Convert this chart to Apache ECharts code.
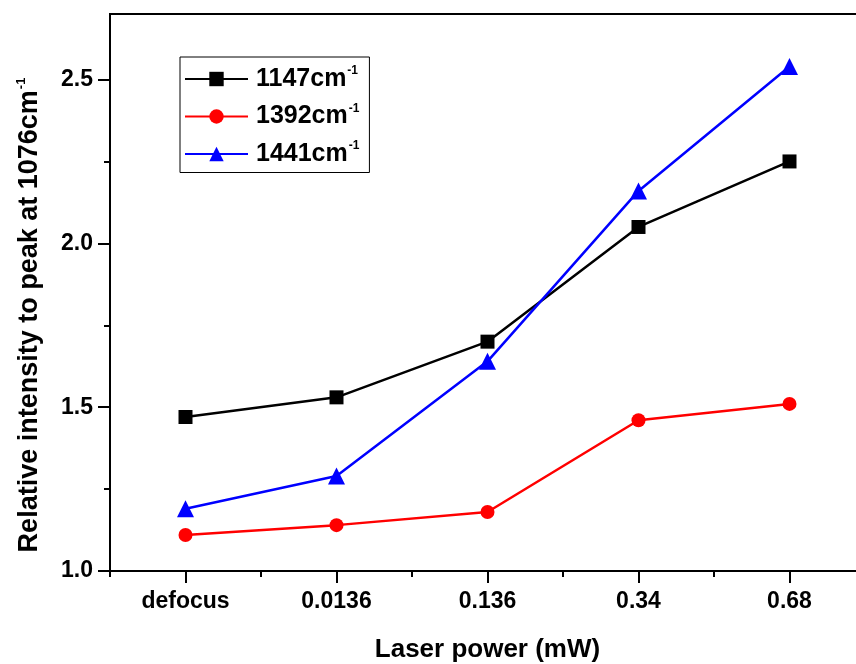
<!DOCTYPE html>
<html>
<head>
<meta charset="utf-8">
<script src="https://cdn.jsdelivr.net/npm/echarts@6/dist/echarts.min.js"></script>
<style>
html,body{margin:0;padding:0;background:#fff;}
#chart{width:856px;height:664px;}
</style>
</head>
<body>
<div id="chart"></div>
<script>
const categories = ['defocus', '0.0136', '0.136', '0.34', '0.68'];
const seriesNames = ['1147', '1392', '1441'];
const s1147 = [1.47, 1.53, 1.70, 2.05, 2.25];
const s1392 = [1.11, 1.14, 1.18, 1.46, 1.51];
const s1441 = [1.19, 1.29, 1.64, 2.16, 2.54];
const yMajorTicks = [1.0, 1.5, 2.0, 2.5];
const yMinorTicks = [1.25, 1.75, 2.25];

const FONT = '"Liberation Sans", Arial, sans-serif';
const chart = echarts.init(document.getElementById('chart'), null, {renderer: 'canvas'});

function mkSeries(name, data, color, symbol, size) {
  return {
    name: name, type: 'line', data: data,
    xAxisIndex: 0, yAxisIndex: 0,
    symbol: symbol, symbolSize: size,
    lineStyle: {color: color, width: 2.5},
    itemStyle: {color: color},
    emphasis: {disabled: true},
    animation: false
  };
}

const option = {
  backgroundColor: '#fff',
  animation: false,
  grid: {left: 110, top: 14, width: 755, height: 557, outerBoundsMode: 'none', containLabel: false,
         show: true, borderColor: '#000', borderWidth: 2, backgroundColor: 'transparent'},
  legend: {
    orient: 'vertical', left: 180, top: 57,
    padding: [8, 10, 6, 4],
    itemWidth: 63, itemHeight: 18, itemGap: 11,
    borderColor: '#000', borderWidth: 1, backgroundColor: '#fff',
    data: seriesNames,
    formatter: function (n) { return '{a|' + n + 'cm}{s|-1}'; },
    textStyle: {
      padding: [0, 0, 0, 3],
      rich: {
        a: {fontFamily: FONT, fontWeight: 'bold', fontSize: 25, color: '#000', lineHeight: 28},
        s: {fontFamily: FONT, fontWeight: 'bold', fontSize: 12, color: '#000', verticalAlign: 'top', lineHeight: 28, padding: [0, 0, 14, 1]}
      }
    }
  },
  xAxis: [
    {
      type: 'category', data: categories, position: 'bottom', boundaryGap: true,
      axisLine: {show: true, lineStyle: {color: '#000', width: 2}},
      axisTick: {show: true, alignWithLabel: true, length: 12, lineStyle: {color: '#000', width: 2}},
      axisLabel: {margin: 19, fontFamily: FONT, fontWeight: 'bold', fontSize: 23, color: '#000'},
      splitLine: {show: false},
      name: 'Laser power (mW)', nameLocation: 'middle', nameGap: 66,
      nameTextStyle: {fontFamily: FONT, fontWeight: 'bold', fontSize: 26, color: '#000'}
    },
    {
      type: 'category', data: categories, position: 'bottom', boundaryGap: true,
      axisLine: {show: false},
      axisTick: {show: true, alignWithLabel: false, length: 6, lineStyle: {color: '#000', width: 2}},
      axisLabel: {show: false},
      splitLine: {show: false}
    }
  ],
  yAxis: [
    {
      type: 'value', min: 1.0, max: 2.7, position: 'left',
      axisLine: {show: true, lineStyle: {color: '#000', width: 2}},
      axisTick: {show: true, length: 12, customValues: yMajorTicks, lineStyle: {color: '#000', width: 2}},
      axisLabel: {margin: 17, customValues: yMajorTicks, formatter: function (v) { return v.toFixed(1); }, fontFamily: FONT, fontWeight: 'bold', fontSize: 23, color: '#000'},
      splitLine: {show: false}
    },
    {
      type: 'value', min: 1.0, max: 2.7, position: 'left',
      axisLine: {show: false},
      axisTick: {show: true, length: 6, customValues: yMinorTicks, lineStyle: {color: '#000', width: 2}},
      axisLabel: {show: false},
      splitLine: {show: false}
    }
  ],
  graphic: [
    {
      type: 'text', x: 30, y: 315, rotation: Math.PI / 2,
      style: {
        text: '{a|Relative intensity to peak at 1076cm}{s|-1}',
        align: 'center', verticalAlign: 'middle',
        rich: {
          a: {fontFamily: FONT, fontWeight: 'bold', fontSize: 27, fill: '#000', lineHeight: 30},
          s: {fontFamily: FONT, fontWeight: 'bold', fontSize: 13, fill: '#000', verticalAlign: 'top', lineHeight: 30, padding: [0, 0, 15, 1]}
        }
      }
    }
  ],
  series: [
    mkSeries(seriesNames[0], s1147, '#000000', 'rect', 14),
    mkSeries(seriesNames[1], s1392, '#ff0000', 'circle', 14),
    mkSeries(seriesNames[2], s1441, '#0000ff', 'triangle', 17)
  ]
};
chart.setOption(option);
</script>
</body>
</html>
